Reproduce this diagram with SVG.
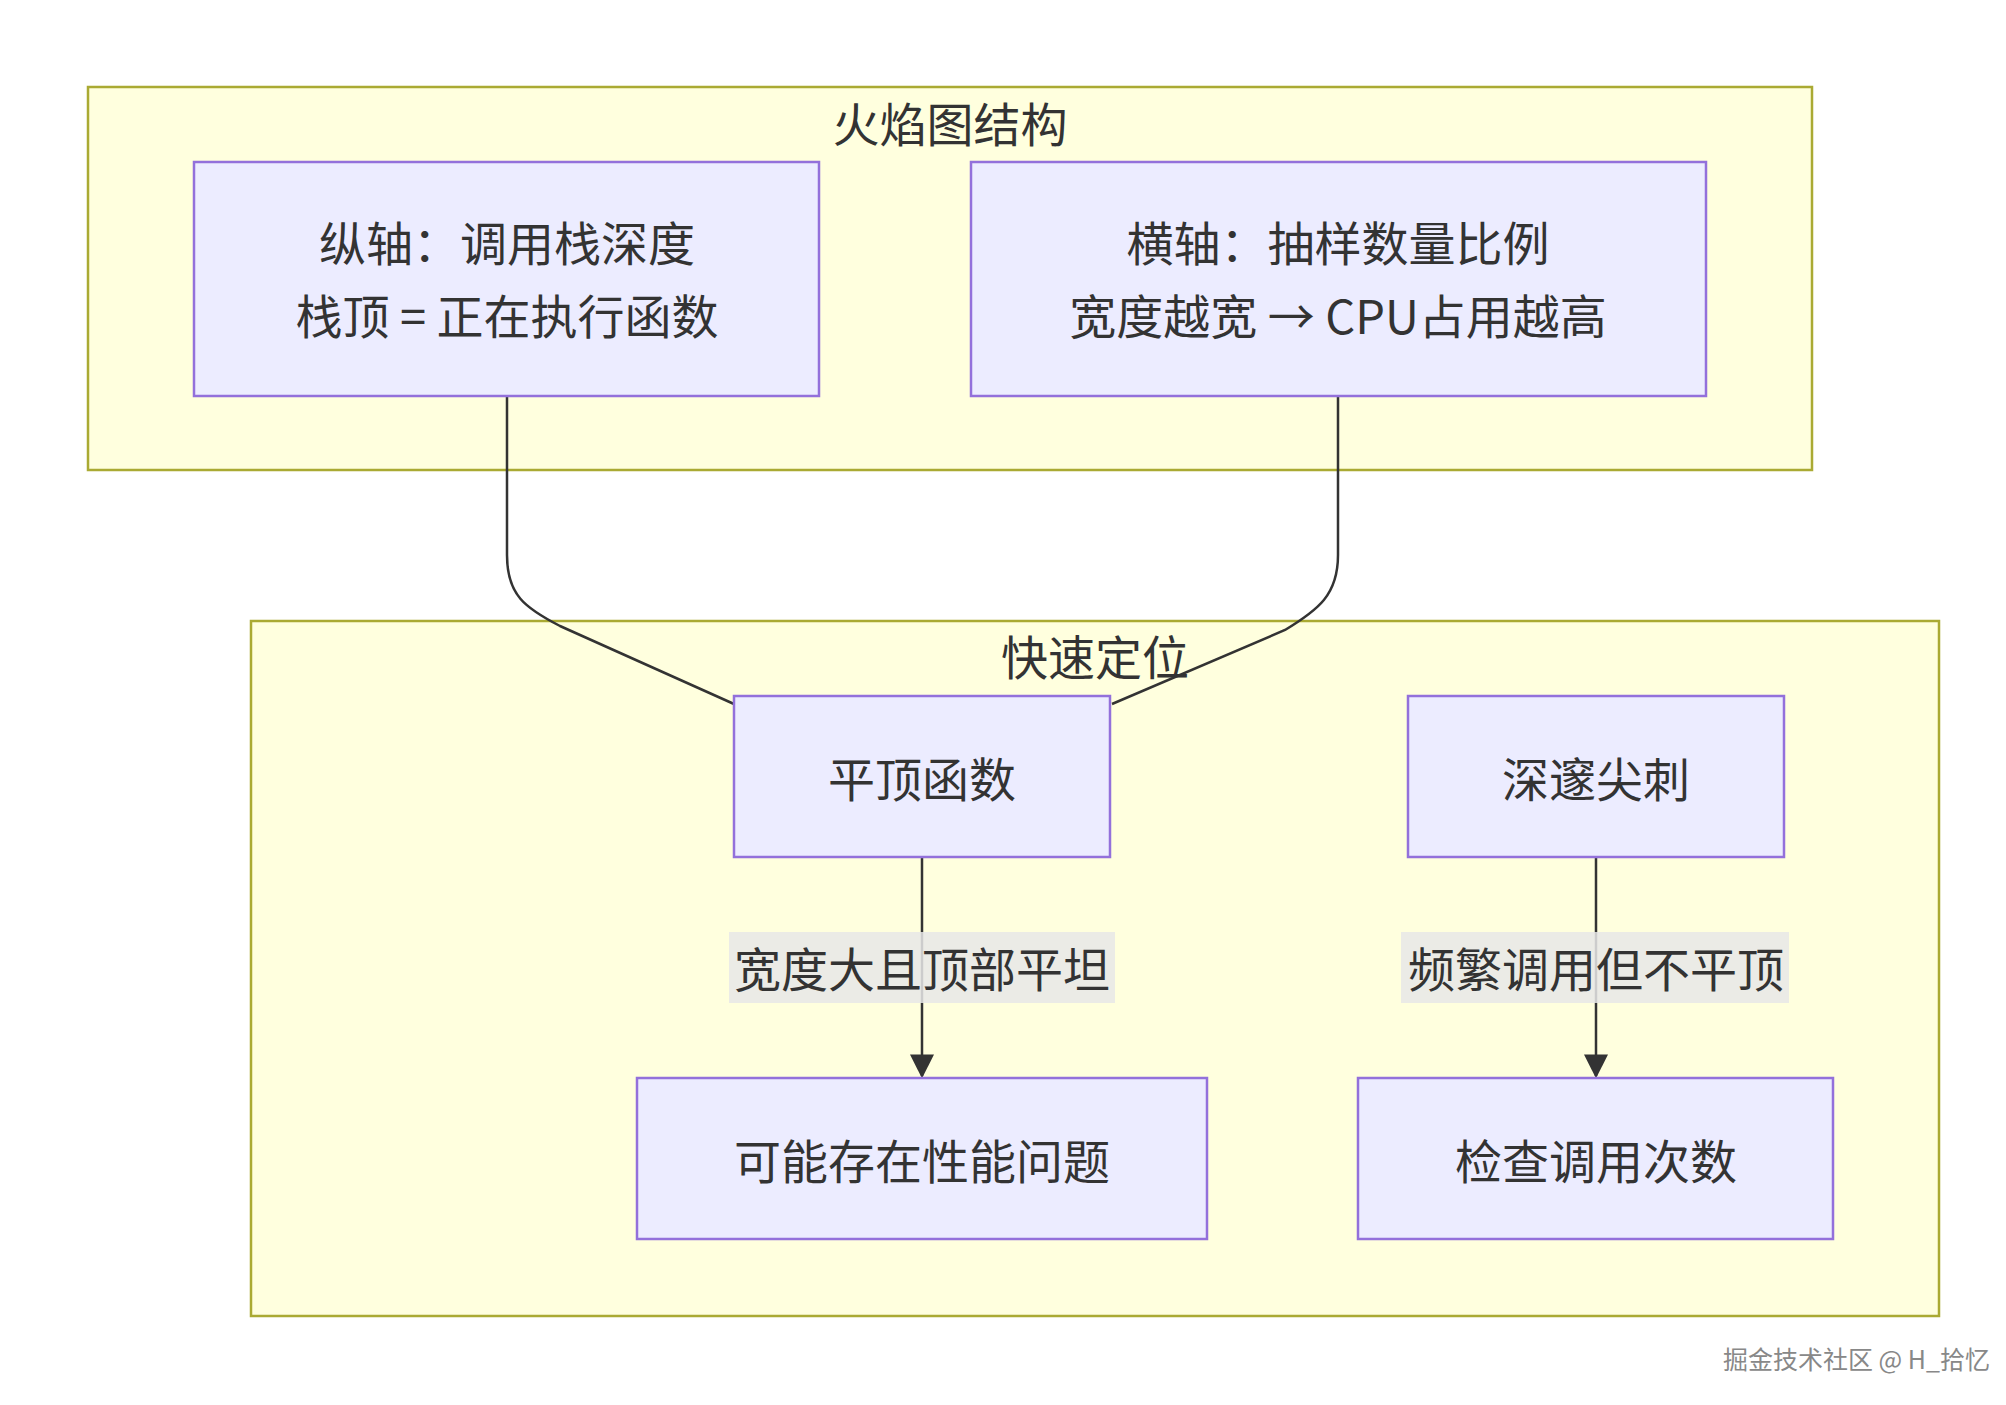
<svg xmlns="http://www.w3.org/2000/svg" width="2006" height="1405" viewBox="0 0 2006 1405">
<style>
.cl{fill:#ffffde;stroke:#aaaa33;stroke-width:2.5}
.nd{fill:#ececff;stroke:#9370db;stroke-width:2.5}
.t{font-family:"Noto Sans CJK SC","Liberation Sans",sans-serif;font-size:47px;fill:#333;text-anchor:middle;dominant-baseline:central}
.e{fill:none;stroke:#333;stroke-width:2.5}
.lb{fill:#e8e8e8;opacity:0.85}
</style>
<defs><marker id="ah" viewBox="0 0 10 10" refX="9" refY="5" markerWidth="9" markerHeight="9" markerUnits="userSpaceOnUse" orient="auto"><path d="M0,0L10,5L0,10z" fill="#333"/></marker>
<marker id="ah2" viewBox="0 0 10 10" refX="9" refY="5" markerWidth="24" markerHeight="24" markerUnits="userSpaceOnUse" orient="auto"><path d="M0,0L10,5L0,10z" fill="#333"/></marker></defs>
<rect width="2006" height="1405" fill="#fff"/>
<g id="cluster1"><rect class="cl" x="88" y="87" width="1724" height="383"/><text class="t" x="950" y="121">火焰图结构</text></g>
<g id="cluster2"><rect class="cl" x="251" y="621" width="1688" height="695"/><text class="t" x="1095" y="654">快速定位</text></g>
<g id="edges">
<path class="e" d="M507,396V555C507,595 525,608 560,626L734,704"/>
<path class="e" d="M1338,396V555C1338,595 1318,610 1285,630L1112,704"/>
<path class="e" d="M922,857V1076" marker-end="url(#ah2)"/>
<path class="e" d="M1596,857V1076" marker-end="url(#ah2)"/>
<rect class="lb" x="729" y="932" width="386" height="71"/><text class="t" x="922" y="966">宽度大且顶部平坦</text>
<rect class="lb" x="1401" y="932" width="388" height="71"/><text class="t" x="1596" y="966">频繁调用但不平顶</text>
</g>
<g id="nA"><rect class="nd" x="194" y="162" width="625" height="234"/><text class="t" x="507" y="240">纵轴：调用栈深度</text><text class="t" x="507" y="313">栈顶 = 正在执行函数</text></g>
<g id="nB"><rect class="nd" x="971" y="162" width="735" height="234"/><text class="t" x="1338" y="240">横轴：抽样数量比例</text><text class="t" x="1338" y="313">宽度越宽 → CPU占用越高</text></g>
<g id="nC"><rect class="nd" x="734" y="696" width="376" height="161"/><text class="t" x="922" y="776">平顶函数</text></g>
<g id="nD"><rect class="nd" x="1408" y="696" width="376" height="161"/><text class="t" x="1596" y="776">深邃尖刺</text></g>
<g id="nE"><rect class="nd" x="637" y="1078" width="570" height="161"/><text class="t" x="922" y="1158">可能存在性能问题</text></g>
<g id="nF"><rect class="nd" x="1358" y="1078" width="475" height="161"/><text class="t" x="1596" y="1158">检查调用次数</text></g>
<text x="1990" y="1369" font-family="'Noto Sans CJK SC',sans-serif" font-size="25" fill="#888" text-anchor="end">掘金技术社区 @ H_拾忆</text>
</svg>
